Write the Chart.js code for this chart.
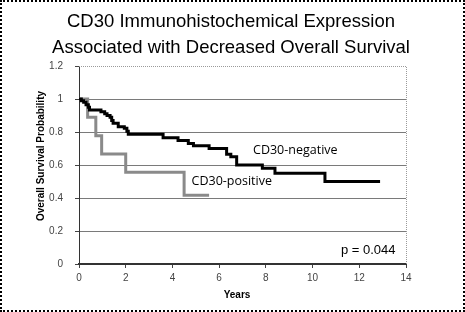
<!DOCTYPE html>
<html>
<head>
<meta charset="utf-8">
<script src="https://cdn.jsdelivr.net/npm/chart.js@4"></script>
<style>
  html, body { margin: 0; padding: 0; background: #fff; }
  #wrap { position: relative; width: 465px; height: 312px; }
  #frame { position: absolute; left: 0; top: 0; width: 465px; height: 312px; box-sizing: border-box; border: 2px dotted #000; pointer-events: none; }
</style>
</head>
<body>
<div id="wrap">
  <canvas id="km-chart" width="465" height="312"></canvas>
  <div id="frame"></div>
</div>
<script>
// Kaplan-Meier curves (time in years, survival probability)
const negTimes = [0, 0.1, 0.2, 0.3, 0.4, 0.45, 0.94, 1.1, 1.2, 1.33, 1.4, 1.46, 1.68, 1.94, 2.05, 2.11, 3.6, 4.24, 4.68, 4.9, 5.57, 6.32, 6.5, 6.75, 7.85, 8.39, 10.53, 12.89];
const negSurv  = [1, 0.99, 0.98, 0.965, 0.95, 0.933, 0.922, 0.91, 0.9, 0.89, 0.87, 0.853, 0.832, 0.822, 0.805, 0.787, 0.765, 0.748, 0.73, 0.717, 0.70, 0.665, 0.65, 0.60, 0.58, 0.55, 0.50, 0.50];

const posTimes = [0, 0.37, 0.72, 0.97, 2.0, 4.5, 5.57];
const posSurv  = [1, 0.889, 0.778, 0.667, 0.556, 0.417, 0.417];

const titleLines = ['CD30 Immunohistochemical Expression', 'Associated with Decreased Overall Survival'];
const xTitle = 'Years';
const yTitle = 'Overall Survival Probability';
const pValue = 'p = 0.044';

const toPoints = (xs, ys) => xs.map((t, i) => ({ x: t, y: ys[i] }));

// text drawn on the chart, placed in data coordinates
const notes = [
  { text: 'CD30-negative', x: 7.45, y: 0.687, align: 'left' },
  { text: 'CD30-positive', x: 4.82, y: 0.503, align: 'left' },
  { text: pValue, x: 13.55, y: 0.085, align: 'right' }
];

const extras = {
  id: 'extras',
  beforeDatasetsDraw(chart) {
    const { ctx, chartArea: a } = chart;
    ctx.save();
    ctx.strokeStyle = '#9a9a9a';
    ctx.lineWidth = 1;
    ctx.setLineDash([1, 1]);
    ctx.beginPath();
    ctx.moveTo(a.left, a.top + 0.5);
    ctx.lineTo(a.right + 0.5, a.top + 0.5);
    ctx.lineTo(a.right + 0.5, a.bottom);
    ctx.stroke();
    ctx.restore();
  },
  afterDraw(chart) {
    const { ctx, scales: { x, y } } = chart;
    ctx.save();
    ctx.fillStyle = '#000';
    ctx.textBaseline = 'middle';
    ctx.textAlign = 'center';
    ctx.font = '18.5px "Liberation Sans", Arial, sans-serif';
    ctx.fillText(titleLines[0], 231, 22);
    ctx.fillText(titleLines[1], 231, 48);

    ctx.font = 'bold 10px "Liberation Sans", Arial, sans-serif';
    ctx.fillText(xTitle, 237, 295);
    ctx.save();
    ctx.translate(41, 156);
    ctx.rotate(-Math.PI / 2);
    ctx.fillText(yTitle, 0, 0);
    ctx.restore();

    notes.forEach(n => {
      ctx.font = n.align === 'right' ? '13px "Liberation Sans", Arial, sans-serif' : '12.5px "Open Sans", sans-serif';
      ctx.textAlign = n.align;
      ctx.fillText(n.text, x.getPixelForValue(n.x), y.getPixelForValue(n.y));
    });
    ctx.restore();
  }
};

const tickFont = { size: 10, family: '"Liberation Sans", Arial, sans-serif' };

new Chart(document.getElementById('km-chart'), {
  type: 'line',
  data: {
    datasets: [
      {
        label: 'CD30-negative',
        data: toPoints(negTimes, negSurv),
        borderColor: '#000',
        borderWidth: 3,
        stepped: 'before',
        pointRadius: 0,
        fill: false
      },
      {
        label: 'CD30-positive',
        data: toPoints(posTimes, posSurv),
        borderColor: '#8a8a8a',
        borderWidth: 3,
        stepped: 'before',
        pointRadius: 0,
        fill: false
      }
    ]
  },
  options: {
    responsive: false,
    animation: false,
    layout: { padding: { left: 0, top: 66, right: 59, bottom: 0 } },
    plugins: {
      legend: { display: false },
      title: { display: false },
      tooltip: { enabled: false }
    },
    scales: {
      x: {
        type: 'linear',
        min: 0,
        max: 14,
        afterFit: s => { s.height = 48; },
        ticks: { stepSize: 2, color: '#444', font: tickFont, padding: 4 },
        grid: { drawOnChartArea: false, drawTicks: true, tickLength: 4, color: '#444' },
        border: { color: '#333', width: 2 }
      },
      y: {
        min: 0,
        max: 1.2,
        afterFit: s => { s.width = 79; },
        ticks: {
          stepSize: 0.2,
          color: '#444',
          font: tickFont,
          padding: 12,
          callback: v => String(+v.toFixed(1))
        },
        grid: {
          tickLength: 4,
          color: ctx => (ctx.tick && ctx.tick.value > 1.1 ? 'rgba(0,0,0,0)' : '#7a7a7a'),
          tickColor: '#444'
        },
        border: { color: '#333', width: 1 }
      }
    }
  },
  plugins: [extras]
});
</script>
</body>
</html>
